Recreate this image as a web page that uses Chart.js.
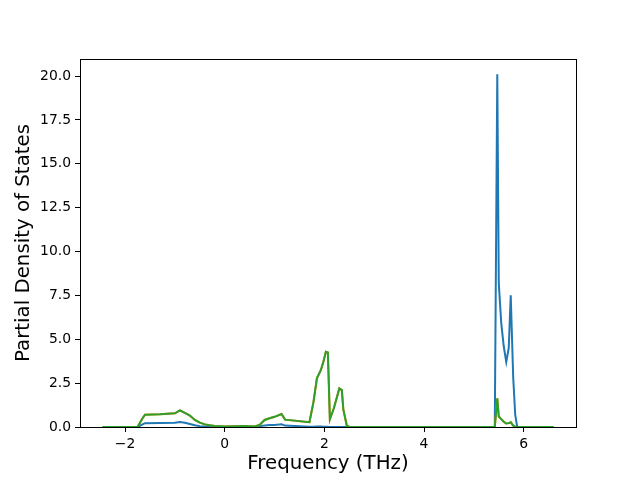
<!DOCTYPE html>
<html lang="en">
<head>
  <meta charset="utf-8" />
  <title>Partial Density of States</title>
  <script src="https://cdn.jsdelivr.net/npm/chart.js"></script>
  <style>
    html, body { margin: 0; background: #fff; }
    #wrap { width: 640px; height: 480px; position: relative; }
  </style>
</head>
<body>
  <div id="wrap"><canvas id="pdos"></canvas></div>
  <script>
    // frequency grid (THz)
    const freq = [-2.45, -1.75, -1.65, -1.6, -1.3, -1.0, -0.9, -0.8, -0.7, -0.6, -0.5, -0.4, -0.3, -0.2, 0.0,
      0.4, 0.6, 0.7, 0.8, 0.9, 1.0, 1.14, 1.21, 1.7, 1.78, 1.85, 1.93, 1.98, 2.03, 2.07, 2.11, 2.19, 2.3,
      2.35, 2.38, 2.45, 2.5, 5.42, 5.47, 5.5, 5.55, 5.6, 5.65, 5.7, 5.74, 5.79, 5.83, 5.87, 6.6];

    const pdosBlue = [0, 0, 0.15, 0.22, 0.23, 0.24, 0.29, 0.24, 0.17, 0.1, 0.05, 0.03, 0.01, 0, 0,
      0, 0.02, 0.05, 0.09, 0.11, 0.12, 0.15, 0.08, 0.02, 0.02, 0.03, 0.03, 0.02, 0.02, 0.01, 0, 0, 0,
      0, 0, 0, 0, 0, 20.1, 8.2, 5.9, 4.6, 3.7, 4.5, 7.5, 2.8, 0.7, 0, 0];

    const pdosOrange = [0, 0, 0.5, 0.7, 0.73, 0.78, 0.95, 0.8, 0.65, 0.4, 0.25, 0.15, 0.1, 0.06, 0.03,
      0.05, 0.03, 0.12, 0.4, 0.5, 0.58, 0.74, 0.42, 0.27, 1.4, 2.77, 3.25, 3.72, 4.29, 4.25, 0.44, 1.07, 2.2,
      2.1, 1.0, 0.07, 0, 0, 1.63, 0.6, 0.45, 0.3, 0.2, 0.22, 0.27, 0.08, 0.02, 0, 0];

    const pdosGreen = [0, 0, 0.5, 0.7, 0.73, 0.78, 0.95, 0.8, 0.65, 0.4, 0.25, 0.15, 0.1, 0.06, 0.03,
      0.05, 0.03, 0.12, 0.4, 0.5, 0.58, 0.74, 0.42, 0.27, 1.4, 2.77, 3.25, 3.72, 4.29, 4.25, 0.44, 1.07, 2.2,
      2.1, 1.0, 0.07, 0, 0, 1.63, 0.6, 0.45, 0.3, 0.2, 0.22, 0.27, 0.08, 0.02, 0, 0];

    const xTicks = [-2, 0, 2, 4, 6];
    const yTicks = [0, 2.5, 5, 7.5, 10, 12.5, 15, 17.5, 20];

    const font = 'DejaVu Sans';
    const pts = arr => freq.map((f, i) => ({ x: f, y: arr[i] }));

    const frame = {
      id: 'frame',
      afterDraw(chart) {
        const { ctx, chartArea: a } = chart;
        ctx.save();
        ctx.strokeStyle = '#000';
        ctx.lineWidth = 1;
        ctx.strokeRect(a.left + 0.5, a.top + 0.5, a.right - a.left, a.bottom - a.top);
        ctx.restore();
      }
    };

    // lower order is drawn on top, so green ends up above orange above blue
    const line = (data, color, order) => ({
      data: pts(data),
      borderColor: color,
      borderWidth: 2,
      pointRadius: 0,
      tension: 0,
      fill: false,
      order
    });

    new Chart(document.getElementById('pdos'), {
      type: 'line',
      data: {
        datasets: [
          line(pdosBlue, '#1f77b4', 3),
          line(pdosOrange, '#ff7f0e', 2),
          line(pdosGreen, '#2ca02c', 1)
        ]
      },
      plugins: [frame],
      options: {
        responsive: true,
        maintainAspectRatio: false,
        animation: false,
        layout: { padding: { top: 59, right: 64, left: 0, bottom: 0 } },
        plugins: { legend: { display: false }, tooltip: { enabled: false } },
        scales: {
          x: {
            type: 'linear',
            min: -2.905,
            max: 7.05,
            afterBuildTicks: s => { s.ticks = xTicks.map(v => ({ value: v })); },
            afterFit: s => { s.height = 53; },
            grid: { drawOnChartArea: false, drawTicks: true, tickLength: 5, tickColor: '#000' },
            border: { display: true, color: '#000' },
            ticks: { color: '#000', padding: 4, maxRotation: 0, font: { family: font, size: 13.9 },
              callback: v => String(v).replace('-', '\u2212') },
            title: { display: true, text: 'Frequency (THz)', color: '#000', padding: { top: 3 },
              font: { family: font, size: 19.8 } }
          },
          y: {
            min: 0,
            max: 20.97,
            afterBuildTicks: s => { s.ticks = yTicks.map(v => ({ value: v })); },
            afterFit: s => { s.width = 80; },
            grid: { drawOnChartArea: false, drawTicks: true, tickLength: 5, tickColor: '#000' },
            border: { display: true, color: '#000' },
            ticks: { color: '#000', padding: 4, font: { family: font, size: 13.9 },
              callback: v => v.toFixed(1) },
            title: { display: true, text: 'Partial Density of States', color: '#000', padding: { top: 12, bottom: 4 },
              font: { family: font, size: 19.8 } }
          }
        }
      }
    });
  </script>
</body>
</html>
